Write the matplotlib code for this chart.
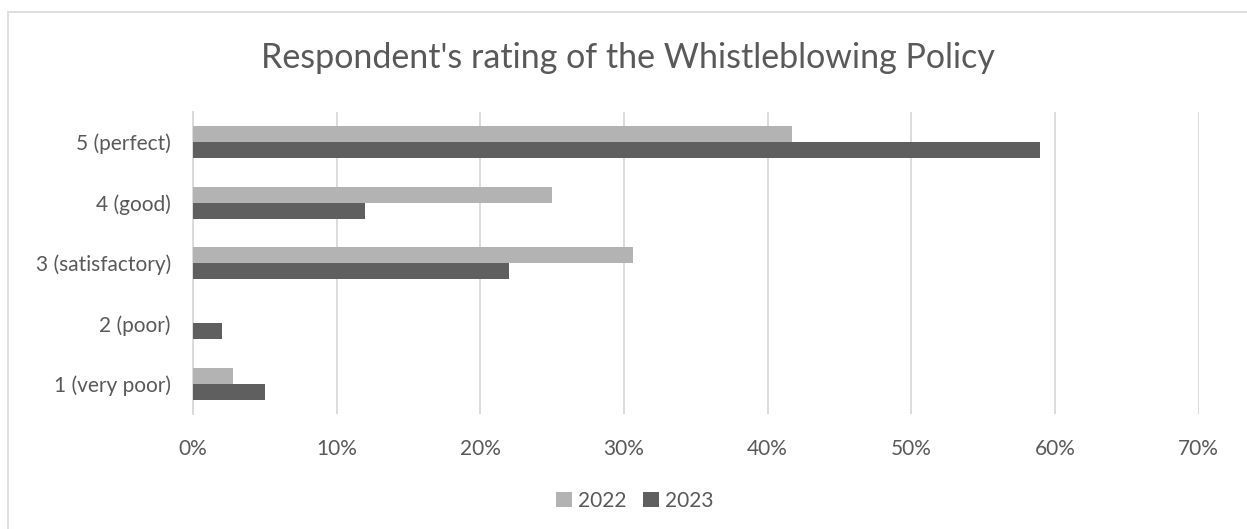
import numpy as np
import matplotlib
matplotlib.use('Agg')
import matplotlib.pyplot as plt
from matplotlib.patches import Rectangle
from matplotlib.ticker import PercentFormatter

# ── data (bottom to top, as drawn) ────────────────────────────────────────────
categories = ["1 (very poor)", "2 (poor)", "3 (satisfactory)", "4 (good)", "5 (perfect)"]
pct_2022 = [2.8, 0.0, 30.6, 25.0, 41.7]
pct_2023 = [5.0, 2.0, 22.0, 12.0, 59.0]
x_ticks = [0, 10, 20, 30, 40, 50, 60, 70]

C22 = "#b3b3b3"
C23 = "#5f5f5f"
TXT = "#595959"

plt.rcParams["font.family"] = ["Lato", "DejaVu Sans"]

fig = plt.figure(figsize=(12.47, 5.29), dpi=100)
ax = fig.add_axes([193 / 1247, 1 - 414 / 529, (1198.5 - 193) / 1247, 302 / 529])

y = np.arange(len(categories))
h = 0.264
ax.barh(y + h / 2, pct_2022, height=h, color=C22, label="2022", zorder=3)
ax.barh(y - h / 2, pct_2023, height=h, color=C23, label="2023", zorder=3)

ax.set_xlim(0, 70)
ax.set_ylim(-0.5, len(categories) - 0.5)
ax.set_xticks(x_ticks)
ax.xaxis.set_major_formatter(PercentFormatter(decimals=0))
ax.set_yticks(y)
ax.set_yticklabels(categories)
ax.tick_params(axis="both", length=0, labelsize=15, labelcolor=TXT)
ax.tick_params(axis="y", pad=16)
ax.tick_params(axis="x", pad=18)
ax.grid(axis="x", color="#d9d9d9", linewidth=1.3, zorder=0)
for s in ["top", "right", "bottom"]:
    ax.spines[s].set_visible(False)
ax.spines["left"].set_color("#d9d9d9")
ax.spines["left"].set_linewidth(1.3)

fig.text(628 / 1247, 1 - 58 / 529, "Respondent's rating of the Whistleblowing Policy",
         ha="center", va="center", fontsize=24.5, color=TXT)

fig.legend(loc="center", bbox_to_anchor=(635 / 1247, 1 - 501 / 529), ncol=2,
           frameon=False, fontsize=15, labelcolor=TXT, handlelength=0.75,
           handleheight=0.75, handletextpad=0.3, columnspacing=0.8)

# chart frame
fig.patches.append(Rectangle((8 / 1247, -0.1), 1.2, 1 - 12 / 529 + 0.1,
                             transform=fig.transFigure, fill=False,
                             edgecolor="#d9d9d9", linewidth=1.2))

fig.savefig("out.png", dpi=100)
